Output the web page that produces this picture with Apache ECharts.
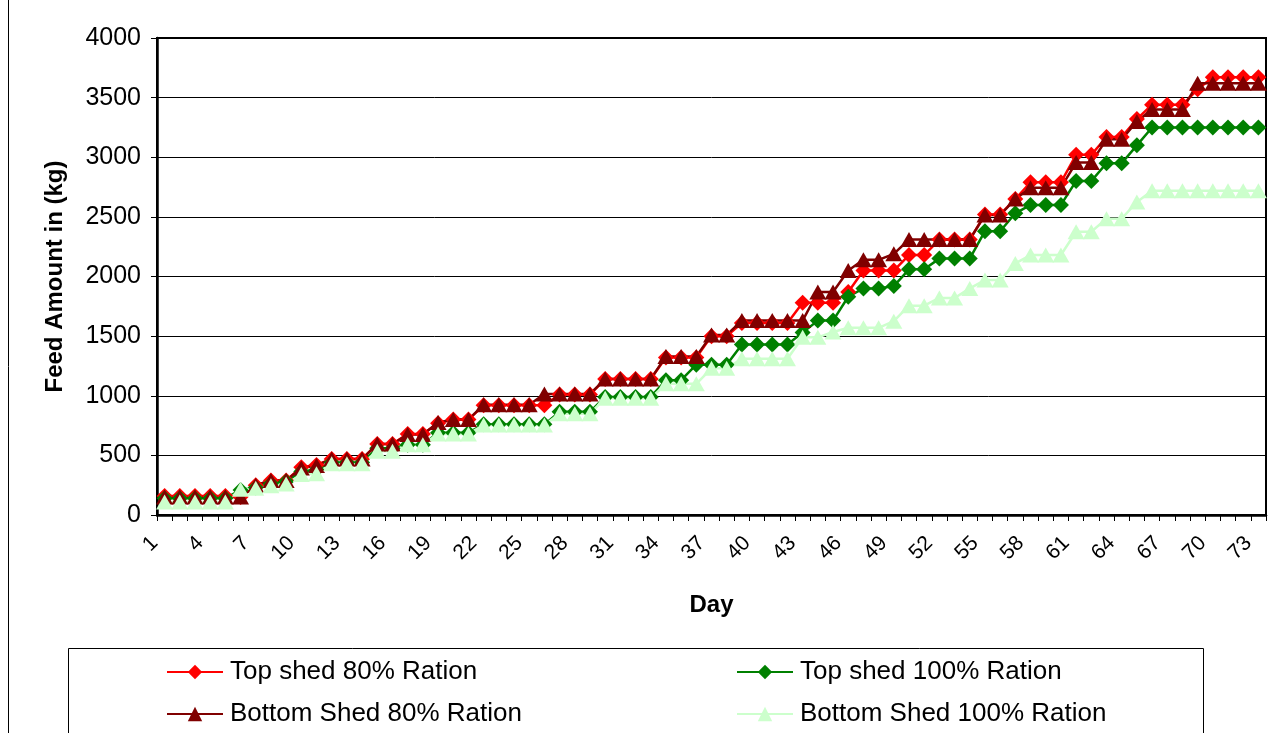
<!DOCTYPE html>
<html>
<head>
<meta charset="utf-8">
<script src="https://cdn.jsdelivr.net/npm/echarts@6/dist/echarts.min.js"></script>
<style>
html,body{margin:0;padding:0;background:#fff;}
#chart{width:1275px;height:733px;}
</style>
</head>
<body>
<div id="chart"></div>
<script>
// Categories (days)
var days = ['1','2','3','4','5','6','7','8','9','10','11','12','13','14','15','16','17','18','19','20',
  '21','22','23','24','25','26','27','28','29','30','31','32','33','34','35','36','37','38','39','40',
  '41','42','43','44','45','46','47','48','49','50','51','52','53','54','55','56','57','58','59','60',
  '61','62','63','64','65','66','67','68','69','70','71','72','73'];

// Series values (kg)
var topShed80 = [160,160,160,160,160,150,250,290,290,400,420,470,470,470,595,595,680,680,770,800,
  800,920,920,920,920,920,1010,1010,1010,1140,1140,1140,1140,1320,1320,1320,1500,1500,1610,1610,
  1610,1610,1780,1780,1780,1870,2050,2050,2050,2180,2180,2310,2310,2310,2520,2520,2650,2790,2790,2790,
  3020,3020,3170,3170,3320,3440,3440,3440,3570,3670,3670,3670,3670];

var topShed100 = [140,140,140,140,140,210,230,265,280,365,380,440,440,440,560,560,590,590,690,690,
  690,760,760,760,760,760,865,865,865,990,990,990,990,1130,1130,1260,1260,1260,1430,1430,
  1430,1430,1530,1630,1630,1830,1900,1900,1920,2060,2060,2150,2150,2150,2380,2380,2530,2600,2600,2600,
  2800,2800,2950,2950,3100,3250,3250,3250,3250,3250,3250,3250,3250];

var bottomShed80 = [150,150,150,150,150,150,250,290,290,395,415,470,470,470,595,595,675,675,775,800,
  800,925,925,925,925,1015,1015,1015,1015,1140,1140,1140,1140,1330,1330,1330,1510,1510,1630,1630,
  1630,1630,1630,1870,1870,2050,2140,2140,2190,2310,2310,2310,2310,2310,2515,2515,2650,2745,2745,2745,
  2955,2955,3150,3150,3300,3400,3400,3400,3620,3620,3620,3620,3620];

var bottomShed100 = [110,110,110,110,110,215,225,245,260,340,345,430,430,430,535,535,590,590,680,680,
  680,755,755,755,755,755,850,850,850,980,980,980,980,1100,1100,1100,1230,1230,1310,1310,
  1310,1310,1490,1490,1535,1570,1570,1570,1625,1755,1755,1820,1820,1900,1970,1970,2110,2180,2180,2180,
  2375,2375,2485,2485,2625,2720,2720,2720,2720,2720,2720,2720,2720];

var seriesNames = ['Top shed 80% Ration','Top shed 100% Ration','Bottom Shed 80% Ration','Bottom Shed 100% Ration'];
var yTicks = {min:0, max:4000, interval:500};

var FONT = '"Liberation Sans", Arial, sans-serif';
var chart = echarts.init(document.getElementById('chart'), null, {renderer:'canvas'});

function mkSeries(name, data, color, symbol) {
  return {
    name: name, type: 'line', data: data,
    symbol: symbol, symbolSize: symbol === 'diamond' ? [16,16] : [17,15],
    showAllSymbol: true,
    lineStyle: {color: color, width: 2.5},
    itemStyle: {color: color, borderColor: color, borderWidth: 0},
    emphasis: {disabled: true},
    animation: false
  };
}

function mkLegend(name, left, top) {
  return {
    data: [name], left: left, top: top, padding: 0, itemGap: 0,
    itemWidth: 56, itemHeight: 18,
    textStyle: {fontFamily: FONT, fontSize: 26, color: '#000', padding: [0,0,0,2]},
    selectedMode: false
  };
}

chart.setOption({
  backgroundColor: '#fff',
  animation: false,
  grid: {left: 157, right: 9, top: 38, bottom: 218, show: true, borderColor: '#000', borderWidth: 2},
  legend: [
    mkLegend(seriesNames[0], 166, 659),
    mkLegend(seriesNames[1], 736, 659),
    mkLegend(seriesNames[2], 166, 701),
    mkLegend(seriesNames[3], 736, 701)
  ],
  graphic: [
    {type:'line', shape:{x1:8.5, y1:0, x2:8.5, y2:733}, style:{stroke:'#000', lineWidth:1}, silent:true},
    {type:'rect', shape:{x:68.5, y:648.5, width:1135, height:120}, style:{stroke:'#000', fill:null, lineWidth:1}, silent:true, z:-1}
  ],
  xAxis: {
    type: 'category', data: days, boundaryGap: true,
    name: 'Day', nameLocation: 'middle', nameGap: 78,
    nameTextStyle: {fontFamily: FONT, fontSize: 24, fontWeight: 'bold', color: '#000'},
    axisLine: {lineStyle: {color: '#000', width: 2.5}},
    axisTick: {show: true, interval: 0, length: 6, lineStyle: {color: '#000', width: 1}},
    axisLabel: {interval: 2, rotate: 45, margin: 15, fontFamily: FONT, fontSize: 21, color: '#000', padding: [0, 14, 0, 0]},
    splitLine: {show: false}
  },
  yAxis: {
    type: 'value', min: yTicks.min, max: yTicks.max, interval: yTicks.interval,
    name: 'Feed Amount in (kg)', nameLocation: 'middle', nameGap: 90, nameRotate: 90,
    nameTextStyle: {fontFamily: FONT, fontSize: 24, fontWeight: 'bold', color: '#000'},
    axisLine: {show: true, lineStyle: {color: '#000', width: 2.5}},
    axisTick: {show: true, length: 6, lineStyle: {color: '#000', width: 1}},
    axisLabel: {margin: 16, fontFamily: FONT, fontSize: 25, color: '#000', formatter: function (v) { return String(v); }},
    splitLine: {show: true, lineStyle: {color: '#000', width: 1}}
  },
  series: [
    mkSeries(seriesNames[0], topShed80, '#FF0000', 'diamond'),
    mkSeries(seriesNames[1], topShed100, '#008000', 'diamond'),
    mkSeries(seriesNames[2], bottomShed80, '#800000', 'triangle'),
    mkSeries(seriesNames[3], bottomShed100, '#CCFFCC', 'triangle')
  ]
});
</script>
</body>
</html>
